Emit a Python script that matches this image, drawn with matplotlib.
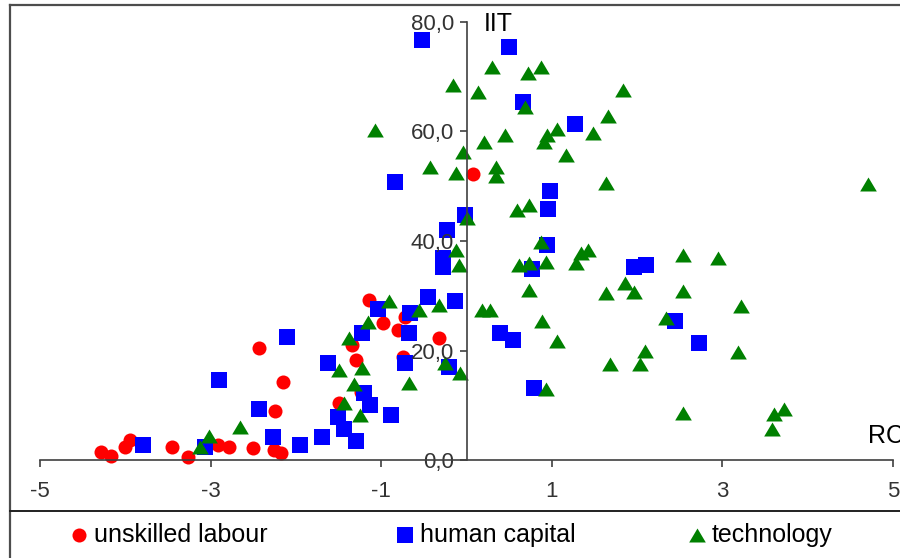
import matplotlib
matplotlib.use("Agg")
import matplotlib.pyplot as plt
from matplotlib.lines import Line2D

plt.rcParams['font.family'] = ['Liberation Sans', 'DejaVu Sans']
plt.rcParams['axes.unicode_minus'] = False

# ---- data ----
labour_x = [-4.29, -4.17, -4.00, -3.94, -3.45, -3.26, -2.91, -2.79, -2.50, -2.26,
            -2.18, -2.43, -2.15, -2.24, -1.14, -0.98, -0.72, -0.80, -1.34, -1.30,
            -0.75, -0.32, -1.50, -1.24, 0.08]
labour_y = [1.5, 0.7, 2.4, 3.7, 2.4, 0.5, 2.7, 2.4, 2.2, 1.8,
            1.3, 20.5, 14.2, 9.0, 29.2, 25.0, 26.1, 23.7, 21.0, 18.3,
            18.8, 22.3, 10.4, 12.4, 52.2]

capital_x = [-3.79, -3.07, -2.90, -2.43, -2.27, -2.11, -1.95, -1.69, -1.62, -1.51,
             -1.44, -1.30, -1.22, -1.20, -1.13, -1.04, -0.89, -0.67, -0.66, -0.72,
             -0.45, -0.13, -0.20, -0.84, -0.02, -0.23, -0.28, -0.28, 0.98, 0.96,
             0.94, 0.77, 0.50, 0.66, 1.27, -0.52, 1.96, 2.10, 2.45, 2.73,
             0.39, 0.54, 0.79]
capital_y = [2.7, 2.4, 14.6, 9.3, 4.2, 22.5, 2.7, 4.2, 17.7, 7.9,
             5.7, 3.5, 23.2, 12.2, 10.0, 27.6, 8.2, 23.2, 26.8, 17.7,
             29.8, 29.0, 17.0, 50.8, 44.7, 42.0, 36.9, 35.3, 49.1, 45.8,
             39.3, 34.9, 75.4, 65.4, 61.4, 76.7, 35.3, 35.6, 25.4, 21.4,
             23.2, 21.9, 13.2]

tech_x = [-3.02, -3.12, -2.66, -0.91, -1.16, -1.38, -1.50, -1.23, -1.32, -1.44,
          -1.25, -0.67, -0.56, -0.32, -0.25, -0.08, -0.04, -0.43, -0.12, 0.34,
          0.34, 0.01, -0.12, -0.09, 0.59, 0.73, 0.87, 0.62, 0.73, 0.93,
          0.73, 0.30, 0.72, 0.87, -0.16, 0.13, 0.68, 1.84, 1.66, 1.06,
          0.94, 0.91, 1.48, 1.17, 0.45, 0.20, -1.07, 1.63, 1.28, 1.34,
          1.42, 2.54, 2.95, 1.63, 1.86, 1.96, 2.54, 3.22, 2.34, 0.18,
          0.27, 0.88, 1.06, 0.93, 1.68, 2.03, 2.09, 3.18, 2.54, 3.60,
          3.72, 3.58, 4.71]
tech_y = [4.4, 2.4, 6.0, 29.0, 25.2, 22.3, 16.4, 16.8, 13.9, 10.4,
          8.2, 14.1, 27.4, 28.3, 17.7, 15.9, 56.3, 53.5, 52.4, 53.5,
          51.9, 44.2, 38.4, 35.6, 45.7, 46.6, 39.8, 35.6, 36.0, 36.2,
          31.0, 71.8, 70.7, 71.8, 68.5, 67.2, 64.5, 67.6, 62.8, 60.5,
          59.4, 58.1, 59.7, 55.7, 59.4, 58.1, 60.3, 50.6, 36.0, 37.8,
          38.4, 37.4, 36.9, 30.5, 32.3, 30.7, 30.9, 28.1, 25.9, 27.4,
          27.4, 25.4, 21.7, 13.0, 17.5, 17.5, 19.9, 19.7, 8.6, 8.4,
          9.3, 5.7, 50.4]

series_names = ["unskilled labour", "human capital", "technology"]
x_ticks = [-5, -3, -1, 1, 3, 5]
y_ticks = [0, 20, 40, 60, 80]
y_tick_labels = ["0,0", "20,0", "40,0", "60,0", "80,0"]

# ---- figure ----
W, H = 900, 558
fig = plt.figure(figsize=(W / 100, H / 100), dpi=100)
fig.patch.set_facecolor('white')

ax = fig.add_axes([40 / W, (H - 460) / H, 853 / W, 438 / H])
ax.set_xlim(-5, 5)
ax.set_ylim(0, 80)

axis_col = '#404040'
for s in ['top', 'right']:
    ax.spines[s].set_visible(False)
ax.spines['left'].set_position(('data', 0))
ax.spines['bottom'].set_position(('data', 0))
for s in ['left', 'bottom']:
    ax.spines[s].set_color(axis_col)
    ax.spines[s].set_linewidth(1.2)

ax.set_xticks(x_ticks)
ax.set_xticklabels([str(v) for v in x_ticks])
ax.set_yticks(y_ticks)
ax.set_yticklabels(y_tick_labels)
ax.tick_params(axis='x', direction='out', length=5, width=1.2, color=axis_col,
               labelsize=16, labelcolor='#333333', pad=10)
ax.tick_params(axis='y', direction='out', length=5, width=1.2, color=axis_col,
               labelsize=16, labelcolor='#333333', pad=4)

tri = [(-1, -0.84), (1, -0.84), (0, 0.84)]
sc1 = ax.scatter(labour_x, labour_y, s=102, marker='o', color='#ff0000',
                 linewidths=0, clip_on=False, zorder=1)
sc2 = ax.scatter(capital_x, capital_y, s=117, marker='s', color='#0000ff',
                 linewidths=0, clip_on=False, zorder=1.1)
sc3 = ax.scatter(tech_x, tech_y, s=144, marker=tri, color='#008000',
                 linewidths=0, clip_on=False, zorder=1.2)

ax.text(0.2, 79.6, "IIT", fontsize=18, ha='left', va='center', color='black')
ax.text(4.71, 4.4, "RC", fontsize=18, ha='left', va='center', color='black',
        clip_on=False)

# ---- frame lines ----
frame_col = '#4d4d4d'
fig.add_artist(Line2D([10 / W, 10 / W], [0, 1 - 5 / H], color=frame_col, lw=1.6,
                      transform=fig.transFigure))
fig.add_artist(Line2D([10 / W, 1], [1 - 5 / H, 1 - 5 / H], color=frame_col, lw=1.6,
                      transform=fig.transFigure))
fig.add_artist(Line2D([10 / W, 1], [(H - 511) / H, (H - 511) / H], color='#202020',
                      lw=1.4, transform=fig.transFigure))

# ---- legend ----
leg_y = (H - 535) / H
for sc, name, mx in zip([sc1, sc2, sc3], series_names, [79, 405, 697]):
    fig.legend([sc], [name], loc='center left',
               bbox_to_anchor=((mx - 7.5) / W, leg_y),
               frameon=False, fontsize=18, handlelength=0.6, handletextpad=0.3,
               borderpad=0, borderaxespad=0, scatterpoints=1)

fig.savefig("out.png", dpi=100)
